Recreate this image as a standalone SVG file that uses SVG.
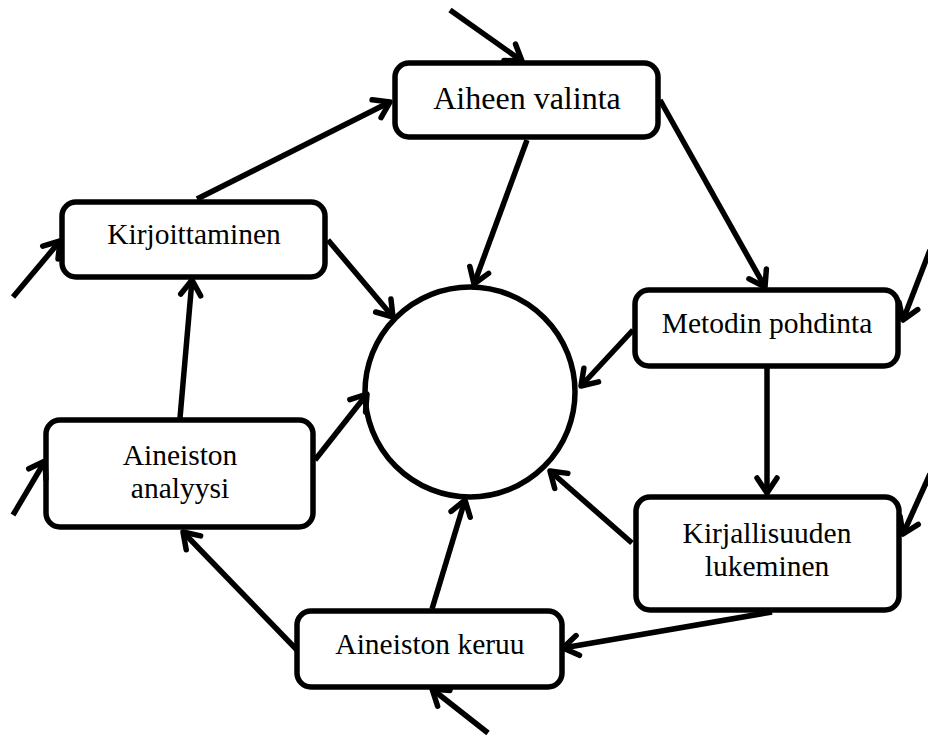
<svg xmlns="http://www.w3.org/2000/svg" width="928" height="736" viewBox="0 0 928 736">
<style>
.box{fill:#fff;stroke:#000;stroke-width:5.5}
.lbl{font-family:"Liberation Serif","Times New Roman",serif;font-size:29.5px;fill:#000;text-anchor:middle}
.big{font-size:32px}
.con line{stroke:#000;stroke-width:5.5;fill:none;marker-end:url(#arr)}
</style>
<defs>
<marker id="arr" markerUnits="userSpaceOnUse" viewBox="-22 -15 28 30" refX="0" refY="0" markerWidth="28" markerHeight="30" orient="auto">
<path d="M-15,-10 L0,0 L-15,10" fill="none" stroke="#000" stroke-width="5.5" stroke-linecap="round" stroke-linejoin="round"/>
</marker>
</defs>
<rect width="928" height="736" fill="#fff"/>
<g id="center"><circle class="box" cx="470" cy="392" r="105"/></g>
<g id="aiheen"><rect class="box" x="395" y="63" width="263" height="74" rx="14"/><text class="lbl big" x="527" y="109">Aiheen valinta</text></g>
<g id="kirjoittaminen"><rect class="box" x="62" y="202" width="263" height="75" rx="14"/><text class="lbl" x="194" y="244">Kirjoittaminen</text></g>
<g id="metodin"><rect class="box" x="635" y="290" width="263" height="76" rx="14"/><text class="lbl" x="767" y="333">Metodin pohdinta</text></g>
<g id="kirjallisuuden"><rect class="box" x="636" y="497" width="263" height="113" rx="14"/><text class="lbl" x="767" y="543">Kirjallisuuden</text><text class="lbl" x="767" y="576">lukeminen</text></g>
<g id="analyysi"><rect class="box" x="46" y="420" width="267" height="107" rx="14"/><text class="lbl" x="180" y="465">Aineiston</text><text class="lbl" x="180" y="498">analyysi</text></g>
<g id="keruu"><rect class="box" x="297" y="611" width="265" height="76" rx="14"/><text class="lbl" x="430" y="654">Aineiston keruu</text></g>
<g id="connectors" class="con">
<line x1="450" y1="10" x2="522" y2="61"/>
<line x1="197" y1="199" x2="390" y2="102"/>
<line x1="527" y1="140" x2="474" y2="284"/>
<line x1="660" y1="100" x2="765" y2="287"/>
<line x1="328" y1="240" x2="393" y2="317"/>
<line x1="633" y1="330" x2="581" y2="386"/>
<line x1="767" y1="368" x2="767" y2="493"/>
<line x1="632" y1="543" x2="550" y2="471"/>
<line x1="772" y1="612" x2="563" y2="648"/>
<line x1="432" y1="609" x2="465" y2="500"/>
<line x1="297" y1="650" x2="183" y2="532"/>
<line x1="315" y1="460" x2="367" y2="394"/>
<line x1="180" y1="418" x2="192" y2="280"/>
<line x1="13" y1="297" x2="60" y2="241"/>
<line x1="13" y1="515" x2="45" y2="461"/>
<line x1="930" y1="250" x2="903" y2="320"/>
<line x1="930" y1="474" x2="903" y2="534"/>
<line x1="488" y1="733" x2="432" y2="689"/>
</g>
</svg>
